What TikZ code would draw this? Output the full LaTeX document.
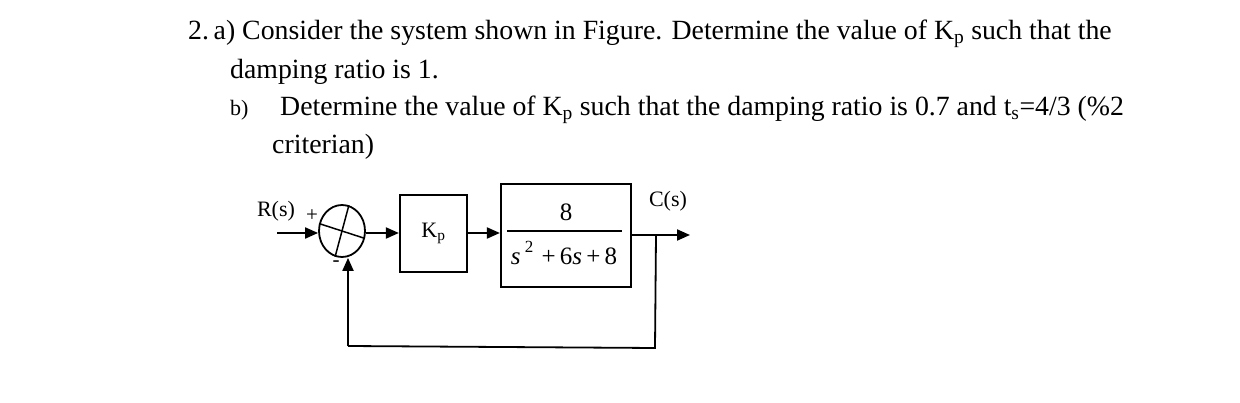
\documentclass[tikz,border=0pt]{standalone}
\usepackage{fontspec}
\setmainfont{Liberation Serif}
\usetikzlibrary{arrows.meta,shapes.geometric,calc}
\begin{document}
\begin{tikzpicture}[x=1pt,y=-1pt,
  qtext/.style={anchor=base west,inner sep=0pt,font=\fontsize{27.8}{32}\selectfont},
  blk/.style={draw,line width=2.2pt,inner sep=0pt},
  sig/.style={line width=2pt,-{Triangle[length=13pt,width=11pt]}},
  wire/.style={line width=1.8pt},
  lbl/.style={inner sep=0pt,font=\fontsize{22}{26}\selectfont}]
\useasboundingbox (0,0) rectangle (1240,403);
% question text
\node[qtext] (l1) at (188,40) {2.\,a) Consider the system shown in Figure. Determine the value of K\textsubscript{p} such that the};
\node[qtext] (l2) at (230,79) {damping ratio is 1.};
\node[qtext,font=\fontsize{22}{26}\selectfont] (l3a) at (230,116) {b)};
\node[qtext] (l3) at (280,116) {Determine the value of K\textsubscript{p} such that the damping ratio is 0.7 and t\textsubscript{s}=4/3 (\%2};
\node[qtext] (l4) at (272,154) {criterian)};
% block diagram
\node[draw,ellipse,line width=1.8pt,minimum width=46pt,minimum height=52pt,inner sep=0pt] (sum) at (342,231) {};
\draw[line width=1.5pt] (sum.75) -- (sum.255);
\draw[line width=1.5pt] (sum.162) -- (sum.342);
\node[blk,minimum width=67pt,minimum height=77pt] (kp) at (433.5,233.5) {};
\node[lbl,font=\fontsize{22}{26}\selectfont] (kplbl) at (kp.center) {K\textsubscript{p}};
\node[blk,minimum width=130pt,minimum height=103pt] (g) at (566,235.5) {};
\node[lbl,font=\fontsize{25}{28}\selectfont] (num) at (566,212) {8};
\draw[line width=1.4pt] (507,231) -- (622,231);
\node[lbl,font=\fontsize{25}{28}\selectfont] (den) at (564,253) {\textit{s}\,\raisebox{0.45em}{\fontsize{17}{20}\selectfont 2}\,\,+\,6\textit{s}\,+\,8};
\coordinate (in) at (277,233);
\coordinate (out) at (690,235);
\coordinate (br) at (656,235);
\coordinate (bl) at (655,348);
\coordinate (bll) at (348,346);
\draw[sig] (in) -- (in -| sum.west);
\draw[sig] (sum.east |- in) -- (in -| kp.west);
\draw[sig] (kp.east |- in) -- (in -| g.west);
\draw[sig] (g.east |- out) -- (out);
\draw[wire] (br) -- (bl) -- (bll);
\draw[sig] (bll) -- (bll |- sum.south);
\node[lbl] (rs) at (276,211) {R(s)};
\node[lbl] (cs) at (668,201) {C(s)};
\node[lbl,font=\fontsize{21}{24}\selectfont] (plus) at (312,216) {+};
\node[lbl,font=\fontsize{21}{24}\selectfont] (minus) at (336,264) {-};
\end{tikzpicture}
\end{document}
